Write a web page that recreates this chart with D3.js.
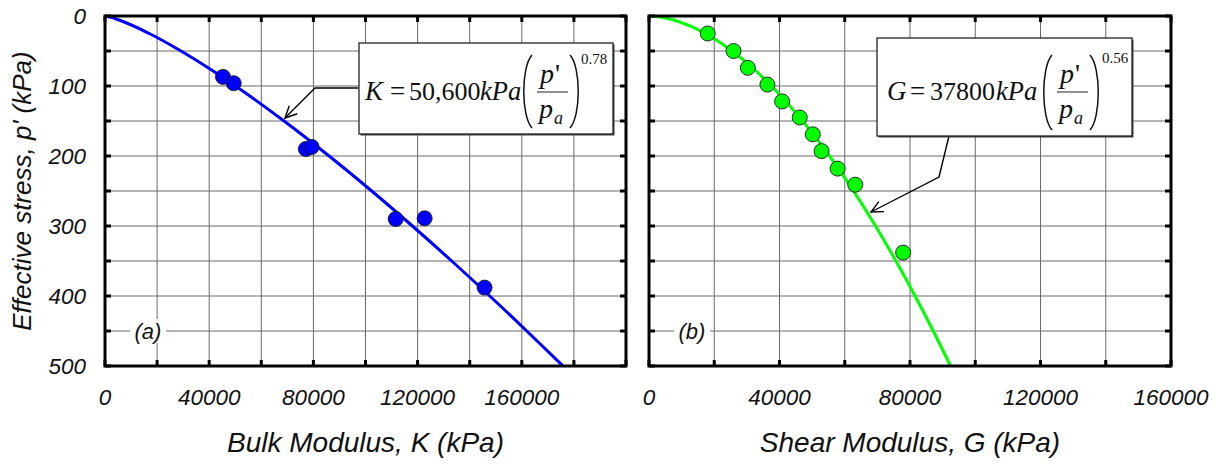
<!DOCTYPE html>
<html>
<head>
<meta charset="utf-8">
<script src="https://cdn.jsdelivr.net/npm/d3@7"></script>
<style>
  html, body { margin: 0; padding: 0; background: #fff; }
  svg { display: block; }
</style>
</head>
<body>
<svg id="chart" width="1223" height="464"></svg>
<script>
// ---------------- DATA ----------------
const pressureTicks = [0, 100, 200, 300, 400, 500];
const bulkTickLabels = [0, 40000, 80000, 120000, 160000];
const shearTickLabels = [0, 40000, 80000, 120000, 160000];

// measured points, panel (a)
const bulkP = [87, 96, 190, 187, 290, 289, 388];
const bulkK = [45300, 49400, 77100, 79300, 111600, 122700, 145700];

// measured points, panel (b)
const shearP = [25, 50, 74, 98, 122, 145, 169, 193, 218, 241, 338];
const shearG = [18000, 25900, 30300, 36300, 40800, 46200, 50200, 52900, 57800, 63200, 77900];

// fitted curves
const fitP      = [0, 1, 2, 5, 10, 25, 50, 75, 100, 150, 200, 250, 300, 350, 400, 450, 500];
const bulkFitK  = [0, 1380, 2370, 4840, 8310, 16990, 29170, 40020, 50090, 68730, 86020, 102380, 118010, 133090, 147700, 161910, 175800];
const shearFitG = [0, 2850, 4200, 7010, 10330, 17270, 25450, 31950, 37530, 47090, 55330, 62690, 69430, 75690, 81560, 87130, 92430];

// ---------------- LAYOUT ----------------
const svg = d3.select("#chart");
const yTop = 16, yBot = 366;
const y = d3.scaleLinear().domain([0, 500]).range([yTop, yBot]);
const xA = d3.scaleLinear().domain([0, 200000]).range([105, 626]);
const xB = d3.scaleLinear().domain([0, 160000]).range([649, 1171]);

const sans = "'Liberation Sans', Arial, Helvetica, sans-serif";
const serif = "'Liberation Serif', 'Times New Roman', serif";

const gridY = d3.range(0, 501, 50);

function panel(x, gridXvals, tickLabels, showYLabels, title, letter, ptsX, ptsP, fitX, color, clipId) {
  const g = svg.append("g");
  const [x0, x1] = x.range();

  svg.append("clipPath").attr("id", clipId)
    .append("rect").attr("x", x0).attr("y", yTop).attr("width", x1 - x0).attr("height", yBot - yTop);

  // grid
  g.append("g").selectAll("line").data(gridXvals).join("line")
    .attr("x1", d => x(d)).attr("x2", d => x(d))
    .attr("y1", yTop).attr("y2", yBot)
    .attr("stroke", "#6a6a6a").attr("stroke-width", 1);
  g.append("g").selectAll("line").data(gridY).join("line")
    .attr("x1", x0).attr("x2", x1)
    .attr("y1", d => y(d)).attr("y2", d => y(d))
    .attr("stroke", "#6a6a6a").attr("stroke-width", 1);

  // panel letter with white background
  const lx = x0 + 43, ly = y(450);
  g.append("rect").attr("x", lx - 18).attr("y", ly - 12).attr("width", 36).attr("height", 24).attr("fill", "#fff");
  g.append("text").attr("x", lx).attr("y", ly).attr("dy", "0.35em")
    .attr("text-anchor", "middle").attr("font-family", sans).attr("font-style", "italic")
    .attr("font-size", 22).attr("fill", "#111").text(letter);

  // fit curve
  const line = d3.line().x(d => x(d[0])).y(d => y(d[1])).curve(d3.curveMonotoneY);
  g.append("path").datum(fitX.map((v, i) => [v, fitP[i]]))
    .attr("clip-path", `url(#${clipId})`)
    .attr("d", line).attr("fill", "none").attr("stroke", color).attr("stroke-width", 3);

  // points
  g.append("g").selectAll("circle").data(ptsX.map((v, i) => [v, ptsP[i]])).join("circle")
    .attr("cx", d => x(d[0])).attr("cy", d => y(d[1])).attr("r", 7.5)
    .attr("fill", color).attr("stroke", "#1a1a1a").attr("stroke-width", 0.9);

  // ticks inside on all four sides
  const tk = g.append("g").attr("stroke", "#000").attr("stroke-width", 3);
  gridXvals.forEach(d => {
    tk.append("line").attr("x1", x(d)).attr("x2", x(d)).attr("y1", yTop).attr("y2", yTop + 6);
    tk.append("line").attr("x1", x(d)).attr("x2", x(d)).attr("y1", yBot).attr("y2", yBot - 6);
  });
  gridY.forEach(d => {
    tk.append("line").attr("x1", x0).attr("x2", x0 + 6).attr("y1", y(d)).attr("y2", y(d));
    tk.append("line").attr("x1", x1).attr("x2", x1 - 6).attr("y1", y(d)).attr("y2", y(d));
  });

  // frame
  g.append("rect").attr("x", x0).attr("y", yTop).attr("width", x1 - x0).attr("height", yBot - yTop)
    .attr("fill", "none").attr("stroke", "#000").attr("stroke-width", 3);

  // x tick labels
  g.append("g").selectAll("text").data(tickLabels).join("text")
    .attr("x", d => x(d)).attr("y", 405).attr("text-anchor", "middle")
    .attr("font-family", sans).attr("font-style", "italic").attr("font-size", 22.5).attr("fill", "#111")
    .text(d => d);

  // y tick labels
  if (showYLabels) {
    g.append("g").selectAll("text").data(pressureTicks).join("text")
      .attr("x", 86).attr("y", d => y(d)).attr("dy", "0.36em").attr("text-anchor", "end")
      .attr("font-family", sans).attr("font-style", "italic").attr("font-size", 22.5).attr("fill", "#111")
      .text(d => d);
  }

  // x title
  g.append("text").attr("x", (x0 + x1) / 2).attr("y", 452).attr("text-anchor", "middle")
    .attr("font-family", sans).attr("font-style", "italic").attr("font-size", 28).attr("fill", "#111")
    .text(title);
}

panel(xA, d3.range(0, 200001, 20000), bulkTickLabels, true, "Bulk Modulus, K (kPa)", "(a)",
      bulkK, bulkP, bulkFitK, "#0000ff", "clipA");
panel(xB, d3.range(0, 160001, 20000), shearTickLabels, false, "Shear Modulus, G (kPa)", "(b)",
      shearG, shearP, shearFitG, "#00ff00", "clipB");

// y title
svg.append("text").attr("transform", "translate(31,191) rotate(-90)")
  .attr("text-anchor", "middle").attr("font-family", sans).attr("font-style", "italic")
  .attr("font-size", 26).attr("fill", "#111").text("Effective stress, p' (kPa)");

// ---------------- annotations ----------------
function arrow(points) {
  const a = svg.append("g").attr("stroke", "#000").attr("stroke-width", 1.4).attr("fill", "none");
  a.append("path").attr("d", d3.line()(points));
  const [px, py] = points[points.length - 2];
  const [tx, ty] = points[points.length - 1];
  const ang = Math.atan2(ty - py, tx - px);
  const L = 13, sp = 0.45;
  a.append("path").attr("d", d3.line()([
    [tx - L * Math.cos(ang - sp), ty - L * Math.sin(ang - sp)],
    [tx, ty],
    [tx - L * Math.cos(ang + sp), ty - L * Math.sin(ang + sp)]
  ]));
}

function txt(x, yy, s, size, italic) {
  return svg.append("text").attr("x", x).attr("y", yy).attr("font-family", serif)
    .attr("font-size", size).attr("font-style", italic ? "italic" : "normal")
    .attr("fill", "#111").text(s);
}

function eqBox(bx, by, bw, bh, sym, coef, xs, parL, parR, parTop, parBot, fracX, fracW, expText, expX, expY) {
  svg.append("rect").attr("x", bx + 1.5).attr("y", by + 1.5).attr("width", bw).attr("height", bh).attr("fill", "#444");
  svg.append("rect").attr("x", bx).attr("y", by).attr("width", bw).attr("height", bh)
    .attr("fill", "#fff").attr("stroke", "#222").attr("stroke-width", 1.3);
  txt(xs[0], 100, sym, 27, true);
  txt(xs[1], 100, "=", 27, false);
  txt(xs[2], 100, coef, 26, false);
  txt(xs[3], 100, "kPa", 26.5, true);
  const pg = svg.append("g").attr("stroke", "#111").attr("fill", "none").attr("stroke-width", 1.5);
  const pm = 10;
  pg.append("path").attr("d", `M${parL + pm},${parTop} C${parL - 1},${parTop + 12} ${parL - 1},${parBot - 12} ${parL + pm},${parBot}`);
  pg.append("path").attr("d", `M${parR - pm},${parTop} C${parR + 1},${parTop + 12} ${parR + 1},${parBot - 12} ${parR - pm},${parBot}`);
  txt(fracX + 3, 83, "p", 28, true);
  txt(fracX + 18, 83, "'", 28, false);
  svg.append("line").attr("x1", fracX).attr("x2", fracX + fracW).attr("y1", 92).attr("y2", 92)
    .attr("stroke", "#555").attr("stroke-width", 1.3);
  txt(fracX + 2, 118, "p", 28, true);
  txt(fracX + 17, 124, "a", 18, true);
  txt(expX, expY, expText, 15, false);
}

arrow([[358, 88], [315, 88], [285, 118]]);
arrow([[949, 136], [939, 177], [871, 212]]);

eqBox(359, 43, 254, 91, "K", "50,600", [365, 390, 409, 480], 522, 580, 55, 128, 537, 31, "0.78", 581, 64);
eqBox(877, 38, 255, 98, "G", "37800", [887, 910, 930, 996], 1042, 1100, 55, 130, 1057, 31, "0.56", 1102, 63);
</script>
</body>
</html>
